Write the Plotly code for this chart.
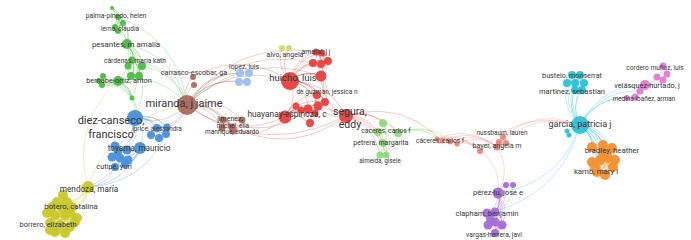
import numpy as np
import plotly.graph_objects as go

# ---------------- data: co-authorship map ----------------
node_id = [
    "g1", "g2", "g3", "g4", "g5", "g6", "g7", "g8", "g9", "g10", "g11", "g12", "g13", "g14", "g15", "g16",
    "b1", "b2", "b3", "b4", "b5", "b6", "b7", "b8", "b9", "b10", "b11", "b12", "b13", "b14", "b15",
    "y1", "y2", "y3", "y4", "y5", "y6", "y7", "y8", "y9", "y10", "y11", "y12", "y13", "y14", "y15", "y16", "y17", "y18", "y19",
    "m1", "m2", "m3", "m4", "m5", "m6", "m7", "m8",
    "l1", "l2", "l3", "l4",
    "a1", "a2",
    "r1", "r2", "r3", "r4", "r5", "r6", "r7", "r8", "r9", "r10", "r11", "r12", "r13", "r14", "r15", "r16", "r17",
    "p1", "p2", "p3", "p4", "p5", "p6",
    "s1", "s2", "s3", "s4", "s5", "s6", "s7", "s8", "s9",
    "v1", "v2", "v3", "v4", "v5", "v6", "v7", "v8", "v9", "v10",
    "c1", "c2", "c3", "c4", "c5", "c6", "c7", "c8", "c9", "c10",
    "k1", "k2", "k3", "k4", "k5", "k6", "k7", "k8",
    "o1", "o2", "o3", "o4", "o5", "o6", "o7", "o8", "o9", "o10", "o11", "o12",
]
node_x = [
    112, 118, 123, 115, 118, 127, 132, 128, 142, 131, 139, 118, 103, 99, 102, 132,
    135, 157, 151, 159, 166, 167, 140, 115, 118, 127, 112, 120, 128, 115, 125,
    88, 63, 57, 52, 67, 72, 77, 65, 55, 47, 50, 60, 70, 75, 55, 65, 50, 62, 70,
    187, 193, 194, 223, 232, 222, 242, 233,
    240, 249, 239, 247,
    282, 289,
    290, 285, 346, 316, 322, 313, 321, 328, 321, 317, 325, 318, 308, 301, 315, 310, 296,
    383, 378, 398, 383, 380, 386,
    437, 442, 450, 457, 503, 499, 506, 480, 497,
    498, 506, 513, 487, 495, 488, 495, 502, 490, 495,
    580, 572, 580, 567, 575, 584, 575, 582, 567, 569,
    663, 667, 657, 663, 645, 640, 635, 627,
    592, 603, 612, 603, 592, 600, 608, 615, 595, 613, 597, 605,
]
node_y = [
    8, 17, 23, 27, 31, 44, 60, 66, 66, 76, 76, 81, 76, 81, 85, 98,
    118, 128, 135, 138, 134, 127, 148, 146, 151, 150, 157, 158, 160, 167, 164,
    187, 195, 202, 207, 202, 207, 218, 215, 215, 213, 223, 225, 227, 222, 232, 233, 230, 208, 213,
    105, 77, 85, 120, 127, 128, 120, 131,
    73, 73, 82, 82,
    48, 48,
    81, 117, 116, 52, 53, 63, 64, 61, 76, 95, 102, 106, 109, 110, 113, 123, 106,
    123, 132, 133, 143, 155, 155,
    139, 141, 142, 144, 137, 142, 143, 151, 147,
    193, 185, 185, 213, 212, 225, 222, 225, 218, 233,
    125, 75, 75, 83, 83, 83, 90, 90, 131, 135,
    66, 74, 77, 80, 85, 91, 97, 98,
    147, 145, 148, 153, 162, 160, 158, 160, 167, 167, 172, 175,
]
node_weight = [
    4, 6, 6, 6, 6, 10, 7, 7, 8, 8, 8, 10, 6, 6, 6, 5,
    16, 8, 8, 8, 8, 7, 12, 9, 9, 9, 9, 9, 9, 8, 8,
    12, 10, 10, 10, 10, 10, 10, 10, 10, 10, 10, 10, 10, 10, 10, 10, 10, 10, 10,
    20, 6, 6, 7, 7, 7, 7, 7,
    8, 8, 8, 8,
    6, 6,
    18, 13, 14, 7, 7, 8, 8, 8, 11, 8, 8, 9, 9, 7, 7, 8, 7,
    8, 8, 8, 8, 7, 7,
    5, 5, 5, 5, 6, 6, 6, 6, 7,
    11, 6, 6, 9, 9, 9, 9, 9, 8, 8,
    18, 8, 8, 8, 8, 8, 8, 8, 5, 5,
    7, 7, 7, 7, 10, 7, 7, 6,
    10, 10, 10, 10, 10, 10, 10, 10, 10, 10, 10, 10,
]
node_cluster = (["green"] * 16 + ["blue"] * 15 + ["yellow"] * 19 + ["brown"] * 8 +
                ["lightblue"] * 4 + ["lightyellow"] * 2 + ["red"] * 17 + ["lightgreen"] * 6 +
                ["salmon"] * 9 + ["purple"] * 10 + ["cyan"] * 10 + ["pink"] * 8 + ["orange"] * 12)

# co-authored papers (each one links all its authors)
papers = [
    ["g1", "g2", "g3", "g4", "g5"],
    ["g2", "g3", "g4", "g5", "g6"],
    ["g6", "g7", "g8", "g9", "g10", "g11"],
    ["g7", "g10", "g11", "g12"],
    ["g12", "g13", "g14", "g15", "g16"],
    ["g6", "g12", "g16", "b1"],
    ["g6", "g9", "m1"],
    ["g12", "m1"], ["g7", "m1"],
    ["g2", "m1"],
    ["b1", "b2", "b3", "b4", "b5", "b6"],
    ["b1", "b7", "b8", "b9", "b10"],
    ["b7", "b11", "b12", "b13", "b14", "b15"],
    ["b1", "y1"], ["b7", "y1"], ["b14", "y1"], ["b5", "y1"],
    ["y1", "g12"], ["y1", "m1"],
    ["y1", "y2", "y3", "y4", "y5", "y6", "y18", "y19", "y8"],
    ["y5", "y6", "y7", "y8", "y9", "y10", "y11", "y12", "y13", "y14", "y15", "y16", "y17", "y19"],
    ["m1", "b1", "b2", "b6"],
    ["m1", "m2", "m3"],
    ["m1", "m4", "m5", "m6", "m7", "m8"],
    ["m1", "l1", "l2", "l3", "l4"],
    ["m1", "r1", "r9"], ["m1", "r4"], ["m1", "r6"], ["m2", "r1"],
    ["r2", "m1"], ["r3", "m1"], ["r2", "m8"], ["r3", "m5"], ["r13", "m4"],
    ["r1", "r4", "r5", "r6", "r7", "r8", "r9"],
    ["r1", "r2", "r10", "r11", "r12", "r13"],
    ["r2", "r13", "r14", "r15", "r16", "r17"],
    ["r1", "r3", "r9", "r11", "r12"],
    ["r2", "r3"],
    ["r1", "a1", "a2"],
    ["r3", "p1", "p2", "p3", "p4", "p5", "p6"],
    ["p3", "s1", "s2", "s3", "s4"],
    ["r3", "s2"],
    ["s1", "s2", "s3", "s4", "s8", "s9"],
    ["s5", "s6", "s7", "s9"],
    ["s9", "c1"], ["s5", "c1"], ["s8", "c1"],
    ["s8", "v1"], ["s9", "v1"],
    ["c1", "v1"], ["c1", "v4"],
    ["v1", "v2", "v3", "v5"],
    ["v1", "v4", "v5", "v6", "v7", "v8", "v9", "v10"],
    ["c1", "c2", "c3", "c4", "c5", "c6", "c7", "c8"],
    ["c1", "c9", "c10"],
    ["c1", "k5", "k6", "k7", "k8"],
    ["k1", "k2", "k3", "k4", "k5"],
    ["c1", "o1", "o2", "o3", "o4", "o5", "o6", "o7", "o8", "o9", "o10", "o11", "o12"],
]

label_text = [
    "palma-pinedo, helen", "lema, claudia", "pesantes, m amalia", "cárdenas, maria kath",
    "bernabe-ortiz, anton", "diez-canseco,<br>francisco", "iprice, alessandra",
    "toyama, mauricio", "cutipé, yuri", "mendoza, maría", "botero, catalina",
    "borrero, elizabeth", "miranda, j jaime", "carrasco-escobar, ga", "jimenez,",
    "michel, ella", "manrique, eduardo", "lopez, luis", "alvo, angela", "amaral, j j",
    "huicho, luis", "de guzman, jessica n", "huayanay-espinoza, c", "segura,<br>eddy",
    "caceres, carlos f", "petrera, margarita", "almeida, gisele", "cáceres, carlos f",
    "nussbaum, lauren", "bayer, angela m", "pérez-lu, josé e", "clapham, benjamin",
    "vargas-herrera, javi", "bustelo, monserrat", "martinez, sebastian",
    "garcia, patricia j", "cordero muñoz, luis", "velásquez-hurtado, j",
    "medina-ibañez, arman", "bradley, heather", "kamb, mary l",
]
label_x = [
    116, 120, 126, 135, 119, 111, 157, 139, 114, 89, 71, 48, 184, 194, 230, 233, 232,
    244, 285, 316, 293, 327, 287, 350, 386, 381, 380, 440, 502, 497, 498, 487, 494,
    572, 572, 580, 655, 647, 644, 612, 596,
]
label_y = [
    16, 29, 45, 61, 81, 128, 129, 149, 167, 190, 207, 225, 104, 73, 119, 126, 132,
    67, 55, 52, 79, 92, 115, 119, 131, 143, 161, 141, 133, 146, 193, 214, 235,
    76, 92, 125, 68, 86, 99, 151, 172,
]
label_weight = [
    6.8, 6.5, 7.9, 6.7, 7.4, 11, 6.4, 8.2, 7.4, 8.2, 7.8, 7.4, 11, 7.2, 7, 6.5, 6.5,
    6.8, 7, 6.8, 9.5, 6.6, 8.4, 10.5, 6.8, 7, 6.3, 6.6, 6.5, 7.1, 7.6, 7.5, 6.7,
    7.2, 7.6, 9, 6.6, 7.4, 6.4, 7.8, 7.8,
]

# ---------------- styles ----------------
cluster_color = {
    "green": (79, 185, 71), "blue": (74, 143, 216), "yellow": (200, 200, 42),
    "brown": (168, 107, 93), "lightblue": (156, 191, 234), "lightyellow": (214, 214, 110),
    "red": (229, 65, 63), "lightgreen": (142, 217, 124), "salmon": (239, 130, 120),
    "purple": (163, 107, 214), "cyan": (44, 194, 212), "pink": (226, 122, 215),
    "orange": (242, 144, 47),
}
EDGE_ALPHA = 0.38
CURVE = 0.3
FONT = "Roboto, Open Sans, sans-serif"

idx = {n: i for i, n in enumerate(node_id)}

fig = go.Figure()

# edges grouped by colour
edge_paths = {}
t = np.linspace(0, 1, 18)
for paper in papers:
    for i in range(len(paper)):
        for j in range(i + 1, len(paper)):
            a, b = idx[paper[i]], idx[paper[j]]
            x0, y0, x1, y1 = node_x[a], node_y[a], node_x[b], node_y[b]
            dx, dy = x1 - x0, y1 - y0
            cx = (x0 + x1) / 2 + CURVE * dy
            cy = (y0 + y1) / 2 - CURVE * dx
            bx = (1 - t) ** 2 * x0 + 2 * (1 - t) * t * cx + t ** 2 * x1
            by = (1 - t) ** 2 * y0 + 2 * (1 - t) * t * cy + t ** 2 * y1
            col = node_cluster[a]
            px, py = edge_paths.setdefault(col, ([], []))
            px.extend(list(bx) + [None])
            py.extend(list(by) + [None])

for col, (px, py) in edge_paths.items():
    r, g, b = cluster_color[col]
    fig.add_trace(go.Scatter(
        x=px, y=py, mode="lines",
        line=dict(color=f"rgba({r},{g},{b},{EDGE_ALPHA})", width=0.8),
        hoverinfo="skip", showlegend=False,
    ))

# nodes
fig.add_trace(go.Scatter(
    x=node_x, y=node_y, mode="markers",
    marker=dict(
        size=node_weight,
        color=[f"rgb{cluster_color[c]}" for c in node_cluster],
        opacity=0.95, line=dict(width=0),
    ),
    hoverinfo="skip", showlegend=False,
))

# labels
fig.add_trace(go.Scatter(
    x=label_x, y=label_y, mode="text", text=label_text,
    textposition="middle center",
    textfont=dict(family=FONT, size=label_weight, color="#353535"),
    hoverinfo="skip", showlegend=False,
))

fig.update_layout(
    width=691, height=240,
    margin=dict(l=0, r=0, t=0, b=0),
    paper_bgcolor="white", plot_bgcolor="white",
    xaxis=dict(range=[0, 691], visible=False, fixedrange=True),
    yaxis=dict(range=[240, 0], visible=False, fixedrange=True),
    showlegend=False,
)

fig.write_html(
    "out.html",
    config={"displayModeBar": False},
    post_script="document.body.style.margin='0';document.body.style.padding='0';"
                "document.body.style.overflow='hidden';",
)
